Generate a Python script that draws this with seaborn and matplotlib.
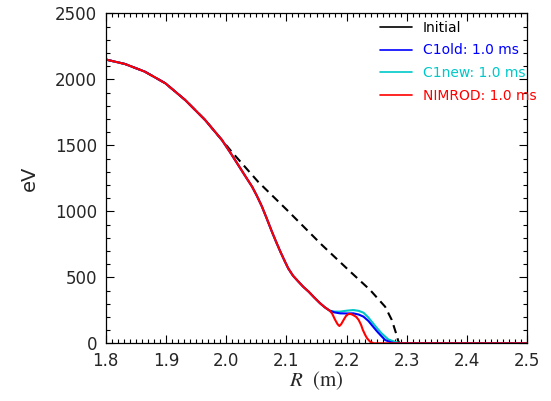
import pandas as pd
import matplotlib
matplotlib.use("Agg")
import matplotlib.pyplot as plt
from matplotlib.ticker import MultipleLocator, FormatStrFormatter
from matplotlib.lines import Line2D
import seaborn as sns

# Electron temperature profiles (eV) versus major radius R (m)
r_core = [1.800, 1.832, 1.865, 1.899, 1.932, 1.965, 1.993]
te_core = [2150, 2116, 2058, 1970, 1843, 1692, 1540]

r_initial_edge = [2.009, 2.053, 2.101, 2.159, 2.206, 2.239, 2.264, 2.275, 2.283, 2.286, 2.289, 2.30, 2.40, 2.50]
te_initial_edge = [1452, 1224, 1010, 745, 543, 404, 277, 177, 63, 12, 0, 0, 0, 0]

r_relaxed = [2.008, 2.020, 2.031, 2.043, 2.051, 2.059, 2.067, 2.076, 2.083, 2.090, 2.097,
             2.103, 2.111, 2.120, 2.128, 2.137, 2.146, 2.156, 2.164, 2.172]
te_relaxed = [1437, 1351, 1272, 1187, 1117, 1040, 950, 845, 768, 694, 625,
              568, 512, 467, 428, 391, 348, 303, 272, 247]

r_c1old_tail = [2.180, 2.189, 2.200, 2.211, 2.220, 2.228, 2.236, 2.244, 2.250, 2.256, 2.264, 2.272, 2.280, 2.30, 2.40, 2.50]
te_c1old_tail = [234, 227, 226, 227, 218, 202, 170, 126, 93, 63, 25, 10, 0, 0, 0, 0]

r_c1new_tail = [2.180, 2.189, 2.200, 2.211, 2.220, 2.228, 2.236, 2.244, 2.251, 2.258, 2.269, 2.282, 2.290, 2.30, 2.40, 2.50]
te_c1new_tail = [240, 240, 247, 252, 246, 232, 196, 151, 112, 76, 30, 8, 0, 0, 0, 0]

r_nimrod_tail = [2.176, 2.181, 2.185, 2.188, 2.191, 2.195, 2.199, 2.203, 2.207, 2.211, 2.216, 2.220, 2.224,
                 2.227, 2.231, 2.234, 2.239, 2.245, 2.30, 2.40, 2.50]
te_nimrod_tail = [225, 177, 145, 131, 145, 177, 207, 222, 222, 214, 200, 177, 140,
                  101, 62, 38, 12, 0, 0, 0, 0]

labels = ["Initial", "C1old: 1.0 ms", "C1new: 1.0 ms", "NIMROD: 1.0 ms"]
colors = ["black", "#0000ff", "#00c8c8", "#ff0000"]

sns.set_style("ticks")
plt.rcParams["font.family"] = ["DejaVu Sans"]
plt.rcParams["mathtext.fontset"] = "stix"

frames = [
    pd.DataFrame({"R": r_core + r_initial_edge, "Te": te_core + te_initial_edge, "run": labels[0]}),
    pd.DataFrame({"R": r_core + r_relaxed + r_c1old_tail, "Te": te_core + te_relaxed + te_c1old_tail, "run": labels[1]}),
    pd.DataFrame({"R": r_core + r_relaxed + r_c1new_tail, "Te": te_core + te_relaxed + te_c1new_tail, "run": labels[2]}),
    pd.DataFrame({"R": r_core + r_relaxed + r_nimrod_tail, "Te": te_core + te_relaxed + te_nimrod_tail, "run": labels[3]}),
]

fig = plt.figure(figsize=(5.51, 4.01), dpi=100)
ax = fig.add_axes([105.7 / 551, 1 - 343.3 / 401, 421.6 / 551, 330 / 401])

# dashed initial profile first, then cyan, blue and red on top
for idx in [0, 2, 1, 3]:
    df = frames[idx]
    line_ax = sns.lineplot(data=df, x="R", y="Te", ax=ax, color=colors[idx],
                           linewidth=1.5, sort=False, estimator=None)
    if idx == 0:
        line_ax.lines[-1].set_dashes((4, 2.6))

ax.set_xlim(1.8, 2.5)
ax.set_ylim(0, 2500)
ax.xaxis.set_major_locator(MultipleLocator(0.1))
ax.xaxis.set_minor_locator(MultipleLocator(0.01))
ax.xaxis.set_major_formatter(FormatStrFormatter("%.1f"))
ax.yaxis.set_major_locator(MultipleLocator(500))
ax.yaxis.set_minor_locator(MultipleLocator(100))
ax.tick_params(which="both", direction="in", top=True, right=True, width=0.8, color="black")
ax.tick_params(which="major", length=6, labelsize=12, pad=6)
ax.tick_params(which="minor", length=3)
for s in ax.spines.values():
    s.set_linewidth(0.9)
    s.set_color("black")

ax.set_xlabel(r"$R$  (m)", fontsize=15, family="STIXGeneral", labelpad=0)
ax.set_ylabel("eV", fontsize=14, labelpad=12)

handles = [Line2D([], [], color=c, linewidth=1.2) for c in colors]
ax.legend(handles, labels, loc="upper left", bbox_to_anchor=(0.62, 1.015),
          frameon=False, fontsize=10, handlelength=2.3, handletextpad=0.8,
          labelspacing=0.62, labelcolor=colors)

fig.savefig("out.png", dpi=100)
